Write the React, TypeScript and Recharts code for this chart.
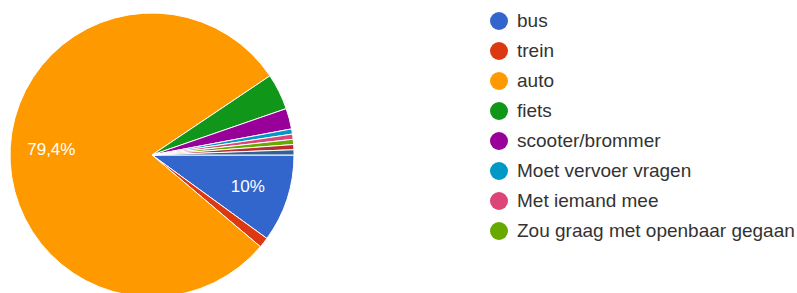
import React from "react";
import { PieChart, Pie, Cell } from "recharts";

const categories = [
  "bus",
  "trein",
  "auto",
  "fiets",
  "scooter/brommer",
  "Moet vervoer vragen",
  "Met iemand mee",
  "Zou graag met openbaar gegaan",
  "anders 1",
  "anders 2",
];
const counts = [17, 2, 135, 7, 4, 1, 1, 1, 1, 1];
const colors = [
  "#3366cc",
  "#dc3912",
  "#ff9900",
  "#109618",
  "#990099",
  "#0099c6",
  "#dd4477",
  "#66aa00",
  "#b82e2e",
  "#316395",
];
const legendCount = 8;

const data = categories.map((name, i) => ({ name, value: counts[i] }));

const RAD = Math.PI / 180;

const renderLabel = (props: any) => {
  const { cx, cy, midAngle, outerRadius, percent } = props;
  if (percent < 0.06) return null;
  const r = outerRadius * 0.71;
  const x = cx + r * Math.cos(-midAngle * RAD);
  const y = cy + r * Math.sin(-midAngle * RAD);
  let txt = (Math.round(percent * 1000) / 10).toFixed(1);
  if (txt.endsWith(".0")) txt = txt.slice(0, -2);
  txt = txt.replace(".", ",") + "%";
  return (
    <text
      x={x}
      y={y}
      fill="#ffffff"
      textAnchor="middle"
      dominantBaseline="central"
      fontSize={17}
      fontFamily="'Liberation Sans', Arial, sans-serif"
    >
      {txt}
    </text>
  );
};

const LegendBox = () => (
  <div
    style={{
      position: "absolute",
      left: 490,
      top: 6,
      width: 307,
      fontFamily: "'Liberation Sans', Arial, sans-serif",
    }}
  >
    {categories.slice(0, legendCount).map((name, i) => (
      <div
        key={name}
        style={{ display: "flex", alignItems: "center", height: 30 }}
      >
        <span
          style={{
            display: "inline-block",
            width: 18,
            height: 18,
            borderRadius: 9,
            background: colors[i],
            marginRight: 9,
            flexShrink: 0,
          }}
        />
        <span style={{ fontSize: 19, color: "#333333", whiteSpace: "nowrap" }}>{name}</span>
      </div>
    ))}
  </div>
);

export default function App() {
  return (
    <div style={{ position: "absolute", left: 0, top: 0, width: 797, height: 293, background: "#fff" }}>
      <PieChart width={797} height={293} margin={{ top: 0, right: 0, bottom: 0, left: 0 }}>
        <Pie
          data={data}
          dataKey="value"
          nameKey="name"
          cx={152}
          cy={155}
          outerRadius={142}
          startAngle={0}
          endAngle={-360}
          stroke="#ffffff"
          strokeWidth={1}
          label={renderLabel}
          labelLine={false}
          isAnimationActive={false}
        >
          {data.map((d, i) => (
            <Cell key={d.name} fill={colors[i]} />
          ))}
        </Pie>
      </PieChart>
      <LegendBox />
    </div>
  );
}
